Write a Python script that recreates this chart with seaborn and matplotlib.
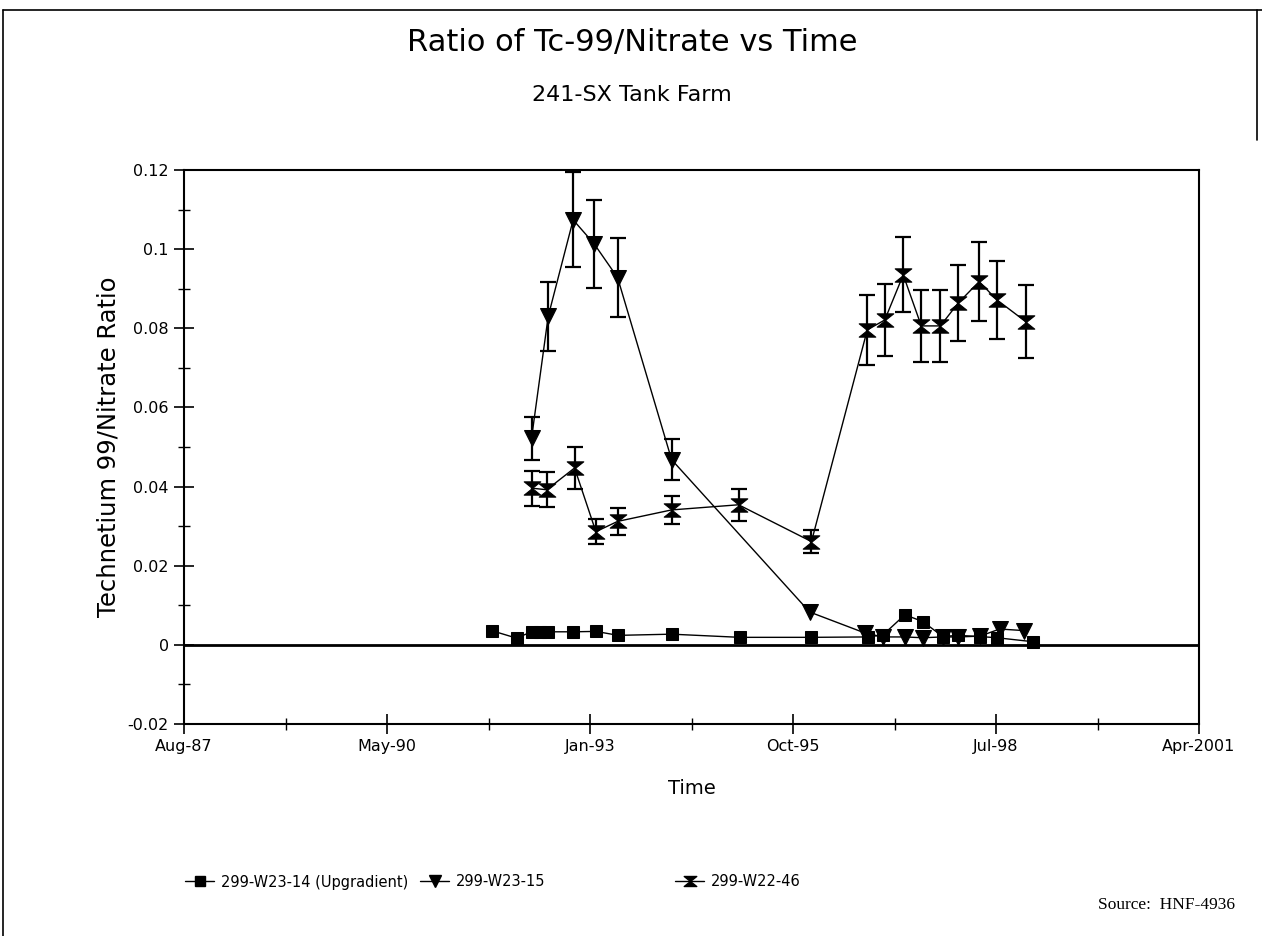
import matplotlib
matplotlib.use("Agg")
import numpy as np
import pandas as pd
import seaborn as sns
import matplotlib.pyplot as plt
from matplotlib.path import Path
from matplotlib.lines import Line2D

# ---------------- data ----------------
w14_dates = ["1991-10-03", "1992-02-03", "1992-04-17", "1992-05-28", "1992-07-08",
             "1992-11-08", "1993-02-28", "1993-06-18", "1994-03-08", "1995-02-07",
             "1996-01-26", "1996-10-30", "1997-01-12", "1997-04-30", "1997-07-27",
             "1997-11-03", "1998-01-15", "1998-05-05", "1998-07-27", "1999-01-20"]
w14_values = [0.0036, 0.0017, 0.0033, 0.0033, 0.0033, 0.0033, 0.0034, 0.0024, 0.0027, 0.0019,
              0.0019, 0.0020, 0.0025, 0.0076, 0.0059, 0.0021, 0.0024, 0.0021, 0.0018, 0.0008]

w15_dates = ["1992-04-17", "1992-07-08", "1992-11-08", "1993-02-20", "1993-06-15",
             "1994-03-08", "1996-01-17", "1996-10-15", "1997-01-12", "1997-04-30",
             "1997-07-27", "1997-11-03", "1998-01-15", "1998-05-05", "1998-08-10",
             "1998-12-10"]
w15_values = [0.0522, 0.0830, 0.1074, 0.1013, 0.0928, 0.0468, 0.0083, 0.0030, 0.0020, 0.0020,
              0.0018, 0.0020, 0.0020, 0.0022, 0.0040, 0.0036]
w15_errors = [0.0055, 0.0088, 0.0120, 0.0110, 0.0100, 0.0052, 0.0, 0.0, 0.0, 0.0,
              0.0, 0.0, 0.0, 0.0, 0.0, 0.0]

w46_dates = ["1992-04-17", "1992-07-01", "1992-11-15", "1993-02-28", "1993-06-15",
             "1994-03-08", "1995-02-01", "1996-01-26", "1996-10-27", "1997-01-21",
             "1997-04-22", "1997-07-20", "1997-10-22", "1998-01-18", "1998-05-01",
             "1998-07-27", "1998-12-16"]
w46_values = [0.0396, 0.0392, 0.0447, 0.0286, 0.0312, 0.0341, 0.0354, 0.0261, 0.0796, 0.0821,
              0.0935, 0.0806, 0.0806, 0.0864, 0.0918, 0.0872, 0.0817]
w46_errors = [0.0044, 0.0044, 0.0052, 0.0031, 0.0035, 0.0036, 0.0040, 0.0030, 0.0088, 0.0090,
              0.0095, 0.0090, 0.0090, 0.0096, 0.0100, 0.0099, 0.0093]

series_labels = ["299-W23-14 (Upgradient)", "299-W23-15", "299-W22-46"]
y_ticks = [-0.02, 0.0, 0.02, 0.04, 0.06, 0.08, 0.10, 0.12]
y_tick_labels = ["-0.02", "0", "0.02", "0.04", "0.06", "0.08", "0.1", "0.12"]
x_start = "1987-08-10"
x_tick_labels = ["Aug-87", "May-90", "Jan-93", "Oct-95", "Jul-98", "Apr-2001"]

# ---------------- style ----------------
sns.set_style("ticks")
plt.rcParams["font.family"] = ["DejaVu Sans"]

fig = plt.figure(figsize=(12.62, 9.36), dpi=100)
W, H = 1262, 936
ax = fig.add_axes([184 / W, 1 - 724 / H, (1199 - 184) / W, (724 - 170) / H])

hourglass = Path(
    [(-1, 0.8), (1, 0.8), (0, 0), (-1, 0.8), (-1, -0.8), (1, -0.8), (0, 0), (-1, -0.8)],
    [Path.MOVETO, Path.LINETO, Path.LINETO, Path.CLOSEPOLY,
     Path.MOVETO, Path.LINETO, Path.LINETO, Path.CLOSEPOLY])

df14 = pd.DataFrame({"date": pd.to_datetime(w14_dates), "value": w14_values})
df15 = pd.DataFrame({"date": pd.to_datetime(w15_dates), "value": w15_values, "err": w15_errors})
df46 = pd.DataFrame({"date": pd.to_datetime(w46_dates), "value": w46_values, "err": w46_errors})

# error bars
for d in (df15, df46):
    m = d["err"] > 0
    ax.errorbar(d["date"][m], d["value"][m], yerr=d["err"][m], fmt="none",
                ecolor="black", elinewidth=1.6, capsize=5.5, capthick=1.6, zorder=2)

line_kw = dict(color="black", linewidth=1.0, sort=False, markeredgecolor="black",
               markerfacecolor="black", ax=ax, zorder=3)
sns.lineplot(data=df14, x="date", y="value", marker="s", markersize=9, **line_kw)
sns.lineplot(data=df15, x="date", y="value", marker="v", markersize=11, **line_kw)
sns.lineplot(data=df46, x="date", y="value", marker=hourglass, markersize=12, **line_kw)

ax.axhline(0, color="black", linewidth=2.0, zorder=1)

# axes limits & ticks
x0 = pd.Timestamp(x_start)
ax.set_xlim(x0, x0 + pd.Timedelta(days=5000))
ax.set_xticks([x0 + pd.Timedelta(days=1000 * k) for k in range(6)])
ax.set_xticklabels(x_tick_labels)
ax.set_xticks([x0 + pd.Timedelta(days=500 + 1000 * k) for k in range(5)], minor=True)
ax.set_ylim(-0.02, 0.12)
ax.set_yticks(y_ticks)
ax.set_yticklabels(y_tick_labels)
ax.set_yticks(np.arange(-0.01, 0.12, 0.02), minor=True)

ax.tick_params(axis="both", which="major", direction="inout", length=14, width=1.2,
               labelsize=11.5, color="black", labelcolor="black")
ax.tick_params(axis="both", which="minor", direction="inout", length=9, width=1.0, color="black")
ax.tick_params(axis="y", pad=4)
ax.tick_params(axis="x", pad=4)
for s in ax.spines.values():
    s.set_visible(True)
    s.set_color("black")
    s.set_linewidth(1.5)

ax.set_xlabel("Time", fontsize=14, labelpad=18, color="black")
ax.set_ylabel("Technetium 99/Nitrate Ratio", fontsize=17.5, labelpad=5, color="black")
ax.grid(False)

# titles
fig.text(632 / W, 1 - 42 / H, "Ratio of Tc-99/Nitrate vs Time", ha="center", va="center",
         fontsize=22, color="black")
fig.text(632 / W, 1 - 95 / H, "241-SX Tank Farm", ha="center", va="center",
         fontsize=16, color="black")

# legends (three separate entries along the bottom)
handles = [
    Line2D([], [], color="black", lw=1.0, marker="s", markersize=7, markeredgecolor="black"),
    Line2D([], [], color="black", lw=1.0, marker="v", markersize=9, markeredgecolor="black"),
    Line2D([], [], color="black", lw=1.0, marker=hourglass, markersize=9, markeredgecolor="black"),
]
for h, lab, xp in zip(handles, series_labels, [185, 420, 675]):
    fig.legend([h], [lab], loc="center left", bbox_to_anchor=(xp / W, 1 - 882 / H),
               frameon=False, fontsize=10.5, handlelength=2.0, handletextpad=0.45,
               borderpad=0, borderaxespad=0, labelcolor="black")

fig.text(1235 / W, 1 - 905 / H, "Source:  HNF-4936", ha="right", va="center",
         family=["Liberation Serif", "DejaVu Serif"], fontsize=12.5, color="black")

# page frame
fig.add_artist(Line2D([3 / W, 3 / W], [0, 1 - 10 / H], transform=fig.transFigure, color="black", lw=1.2))
fig.add_artist(Line2D([3 / W, 1], [1 - 10 / H, 1 - 10 / H], transform=fig.transFigure, color="black", lw=1.2))
fig.add_artist(Line2D([1257 / W, 1257 / W], [1 - 10 / H, 1 - 140 / H], transform=fig.transFigure, color="black", lw=1.2))

fig.savefig("out.png", dpi=100)
